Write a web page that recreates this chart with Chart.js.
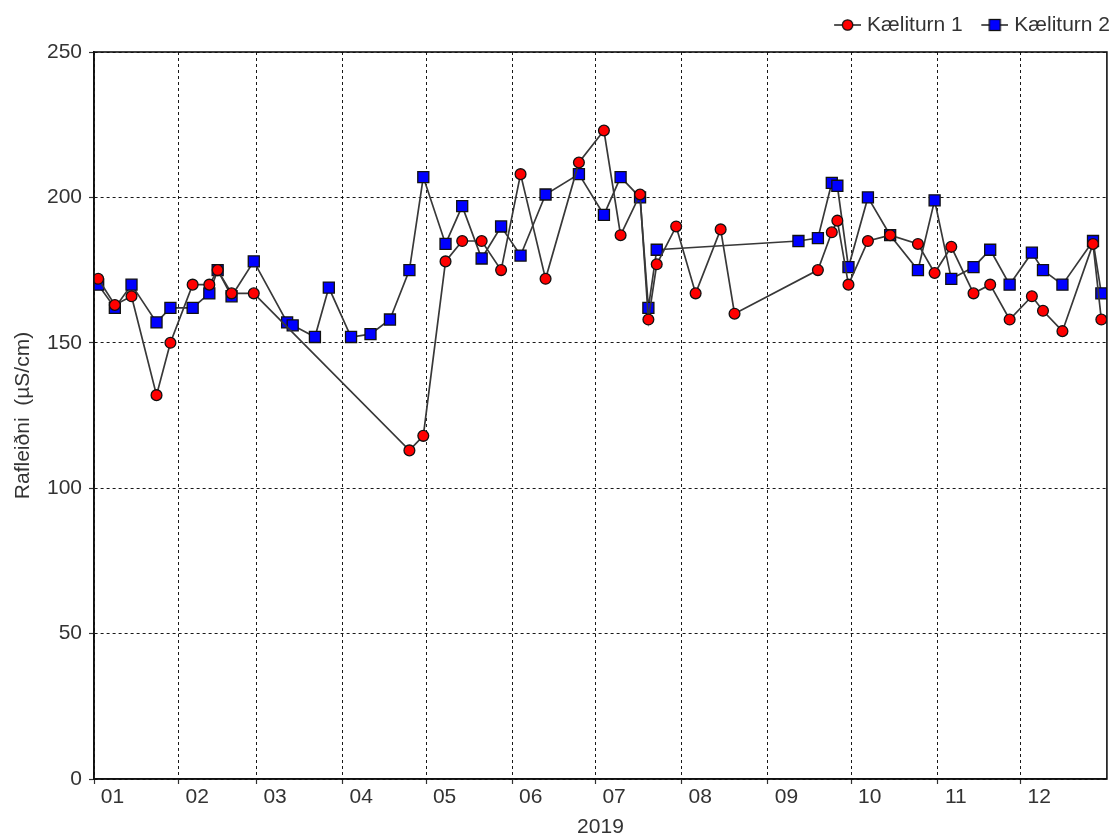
<!DOCTYPE html>
<html>
<head>
<meta charset="utf-8">
<script src="https://cdn.jsdelivr.net/npm/chart.js@4/dist/chart.umd.min.js"></script>
<style>
  html, body { margin: 0; padding: 0; background: #ffffff; }
  #wrap { width: 1116px; height: 840px; }
</style>
</head>
<body>
<div id="wrap"><canvas id="chart" width="1116" height="840"></canvas></div>
<script>
// Rafleiðni (conductivity) measured in two cooling towers during 2019
const seriesNames = ['Kæliturn 1', 'Kæliturn 2'];

const datesK1 = [
  '2019-01-03','2019-01-09','2019-01-15','2019-01-24','2019-01-29','2019-02-06','2019-02-12','2019-02-15',
  '2019-02-20','2019-02-28','2019-04-25','2019-04-30','2019-05-08','2019-05-14','2019-05-21','2019-05-28',
  '2019-06-04','2019-06-13','2019-06-25','2019-07-04','2019-07-10','2019-07-17','2019-07-20','2019-07-23',
  '2019-07-30','2019-08-06','2019-08-15','2019-08-20','2019-09-19','2019-09-24','2019-09-26','2019-09-30',
  '2019-10-07','2019-10-15','2019-10-25','2019-10-31','2019-11-06','2019-11-14','2019-11-20','2019-11-27',
  '2019-12-05','2019-12-09','2019-12-16','2019-12-27','2019-12-30'
];
const valuesK1 = [
  172, 163, 166, 132, 150, 170, 170, 175,
  167, 167, 113, 118, 178, 185, 185, 175,
  208, 172, 212, 223, 187, 201, 158, 177,
  190, 167, 189, 160, 175, 188, 192, 170,
  185, 187, 184, 174, 183, 167, 170, 158,
  166, 161, 154, 184, 158
];

const datesK2 = [
  '2019-01-03','2019-01-09','2019-01-15','2019-01-24','2019-01-29','2019-02-06','2019-02-12','2019-02-15',
  '2019-02-20','2019-02-28','2019-03-12','2019-03-14','2019-03-22','2019-03-27','2019-04-04','2019-04-11',
  '2019-04-18','2019-04-25','2019-04-30','2019-05-08','2019-05-14','2019-05-21','2019-05-28','2019-06-04',
  '2019-06-13','2019-06-25','2019-07-04','2019-07-10','2019-07-17','2019-07-20','2019-07-23','2019-09-12',
  '2019-09-19','2019-09-24','2019-09-26','2019-09-30','2019-10-07','2019-10-15','2019-10-25','2019-10-31',
  '2019-11-06','2019-11-14','2019-11-20','2019-11-27','2019-12-05','2019-12-09','2019-12-16','2019-12-27',
  '2019-12-30'
];
const valuesK2 = [
  170, 162, 170, 157, 162, 162, 167, 175,
  166, 178, 157, 156, 152, 169, 152, 153,
  158, 175, 207, 184, 197, 179, 190, 180,
  201, 208, 194, 207, 200, 162, 182, 185,
  186, 205, 204, 176, 200, 187, 175, 199,
  172, 176, 182, 170, 181, 175, 170, 185,
  167
];

const monthLabels = ['01','02','03','04','05','06','07','08','09','10','11','12'];
const yearLabel = '2019';
const yAxisTitle = 'Rafleiðni  (µS/cm)';
const yTickStep = 50;
const yMin = 0;
const yMax = 250;

// x positions are days since 1 January 2019
const YEAR_START = Date.UTC(2019, 0, 1);
function dayOf(iso) {
  const [y, m, d] = iso.split('-').map(Number);
  return (Date.UTC(y, m - 1, d) - YEAR_START) / 86400000;
}
const xMin = 0.5;
const xMax = 365;
const monthStarts = monthLabels.map((_, m) => Math.max(xMin, (Date.UTC(2019, m, 1) - YEAR_START) / 86400000));

function toPoints(dates, values) {
  return dates.map((d, i) => ({ x: dayOf(d), y: values[i] }));
}

const LINE_COLOR = '#383838';
const LINE_WIDTH = 1.7;

// legend icon: a short line segment with the series marker in its middle
function legendIcon(kind) {
  const c = document.createElement('canvas');
  c.width = 50; c.height = 16;
  const g = c.getContext('2d');
  g.strokeStyle = LINE_COLOR;
  g.lineWidth = LINE_WIDTH;
  g.beginPath(); g.moveTo(23, 8); g.lineTo(50, 8); g.stroke();
  g.lineWidth = 1.3;
  g.strokeStyle = '#111111';
  if (kind === 'circle') {
    g.fillStyle = '#ff0000';
    g.beginPath(); g.arc(36.5, 8, 5.2, 0, Math.PI * 2); g.fill(); g.stroke();
  } else {
    g.fillStyle = '#0000ff';
    g.fillRect(31, 2.5, 11, 11); g.strokeRect(31, 2.5, 11, 11);
  }
  return c;
}
const icons = [legendIcon('circle'), legendIcon('rect')];

// outline around the plotting area
const plotFrame = {
  id: 'plotFrame',
  afterDraw(chart) {
    const { ctx, chartArea: a } = chart;
    ctx.save();
    ctx.strokeStyle = '#111111';
    ctx.lineWidth = 1.6;
    ctx.strokeRect(a.left, a.top, a.right - a.left, a.bottom - a.top);
    ctx.restore();
  }
};

Chart.defaults.font.family = "'Liberation Sans', Arial, sans-serif";
Chart.defaults.font.size = 21;
Chart.defaults.color = '#333333';

const gridStyle = {
  color: 'rgba(0,0,0,0.9)',
  lineWidth: 1,
  tickLength: 5,
  tickColor: '#333333',
  tickWidth: 1.2
};

new Chart(document.getElementById('chart'), {
  type: 'line',
  data: {
    datasets: [
      {
        label: seriesNames[0],
        data: toPoints(datesK1, valuesK1),
        borderColor: LINE_COLOR,
        borderWidth: LINE_WIDTH,
        pointStyle: 'circle',
        pointRadius: 5.4,
        pointBackgroundColor: '#ff0000',
        pointBorderColor: '#111111',
        pointBorderWidth: 1.3,
        tension: 0
      },
      {
        label: seriesNames[1],
        data: toPoints(datesK2, valuesK2),
        borderColor: LINE_COLOR,
        borderWidth: LINE_WIDTH,
        pointStyle: 'rect',
        pointRadius: 7.8,
        pointBackgroundColor: '#0000ff',
        pointBorderColor: '#111111',
        pointBorderWidth: 1.3,
        tension: 0
      }
    ]
  },
  options: {
    responsive: false,
    animation: false,
    events: [],
    layout: { padding: { top: 14.5, right: 6, bottom: 0, left: 0 } },
    plugins: {
      tooltip: { enabled: false },
      legend: {
        position: 'top',
        align: 'end',
        labels: {
          usePointStyle: true,
          pointStyleWidth: 41,
          boxHeight: 16,
          padding: 0,
          color: '#333333',
          font: { size: 21 },
          generateLabels(chart) {
            const items = Chart.defaults.plugins.legend.labels.generateLabels(chart);
            items.forEach((it, i) => { it.pointStyle = icons[i]; });
            return items;
          }
        }
      },
      subtitle: {
        display: true,
        text: '',
        weight: 500,
        font: { size: 1, lineHeight: 1 },
        padding: { top: 5.5, bottom: 0 }
      }
    },
    scales: {
      x: {
        type: 'linear',
        min: xMin,
        max: xMax,
        afterFit(scale) { scale.height = 61; },
        afterBuildTicks(scale) { scale.ticks = monthStarts.map(v => ({ value: v })); },
        grid: gridStyle,
        border: { display: true, color: '#111111', width: 1.6, dash: [3, 3] },
        ticks: {
          autoSkip: false,
          maxRotation: 0,
          padding: 1,
          labelOffset: 18.5,
          color: '#333333',
          callback: (v, i) => monthLabels[i]
        },
        title: {
          display: true,
          text: yearLabel,
          color: '#333333',
          font: { size: 21 },
          padding: { top: 0, bottom: 0 }
        }
      },
      y: {
        min: yMin,
        max: yMax,
        afterFit(scale) { scale.width = 94; },
        grid: gridStyle,
        border: { display: true, color: '#111111', width: 1.6, dash: [3, 3] },
        ticks: { stepSize: yTickStep, padding: 7, color: '#333333' },
        title: {
          display: true,
          text: yAxisTitle,
          color: '#333333',
          font: { size: 21 },
          padding: { top: 11, bottom: 0 }
        }
      }
    }
  },
  plugins: [plotFrame]
});
</script>
</body>
</html>
